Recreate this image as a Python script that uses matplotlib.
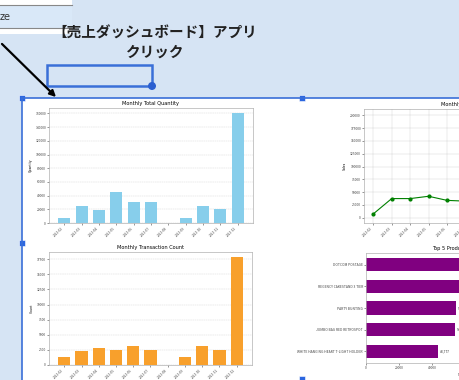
import matplotlib.pyplot as plt
from matplotlib.patches import Rectangle, Circle, FancyArrowPatch

plt.rcParams['font.family'] = ['Noto Sans CJK JP', 'DejaVu Sans']

months = ["2011-02", "2011-03", "2011-04", "2011-05", "2011-06", "2011-07",
          "2011-08", "2011-09", "2011-10", "2011-11", "2011-12"]
quantity = [7900, 24800, 18800, 46000, 31200, 30200, 0, 7400, 24800, 19800, 160000]
sales = [7500, 37500, 37500, 42000, 34000, 32500, 0, 8000, 40000, 30000, 202000]
tx_count = [1390, 2280, 2780, 2440, 3170, 2440, 0, 1280, 3220, 2500, 17800]
products = ["DOTCOM POSTAGE", "REGENCY CAKESTAND 3 TIER", "PARTY BUNTING",
            "JUMBO BAG RED RETROSPOT", "WHITE HANGING HEART T-LIGHT HOLDER"]
product_sales = [110000, 80000, 54500, 54000, 43777]

title_text = "【売上ダッシュボード】アプリ\nクリック"

W, H = 460, 380
BG = '#d6e4f4'
BLUE = '#3a6fd8'

fig = plt.figure(figsize=(W / 100, H / 100), dpi=100)
fig.patch.set_facecolor(BG)


def px_axes(x0, y0, x1, y1, z=1):
    # axes placed by pixel corners (top-left origin)
    return fig.add_axes([x0 / W, 1 - y1 / H, (x1 - x0) / W, (y1 - y0) / H], zorder=z)


# background layer
bg = px_axes(0, 0, W, H, z=0)
bg.set_xlim(0, W)
bg.set_ylim(H, 0)
bg.axis('off')
bg.add_patch(Rectangle((22, 98), 500, 300, facecolor='white', edgecolor='none'))
# cut-off table cell top left
bg.add_patch(Rectangle((0, 0), 72, 34, facecolor='white', edgecolor='none'))
bg.add_patch(Rectangle((0, 5), 72, 23, facecolor='#d9e8f8', edgecolor='none'))
bg.plot([0, 72], [4.5, 4.5], color='#888888', lw=0.8)
bg.plot([0, 72], [28, 28], color='#888888', lw=0.8)
bg.text(0, 17, "ze", fontsize=7, color='#333333', va='center', ha='left', family='DejaVu Sans')
bg.text(155, 42, title_text, fontsize=10.5, fontweight='bold', color='#222222',
        ha='center', va='center', linespacing=1.25)
bg.add_patch(Rectangle((47, 65), 105, 21, facecolor='none', edgecolor=BLUE, lw=1.8))
bg.add_patch(Circle((152, 86), 4, facecolor='#2b5fd0', edgecolor='none'))

tick_fs = 2.4
title_fs = 3.6


def style(ax, num_axis='y'):
    for s in ax.spines.values():
        s.set_color('#b0b0b0')
        s.set_linewidth(0.5)
    ax.tick_params(labelsize=tick_fs, length=1.2, width=0.4, pad=1, colors='#444444')
    ax.ticklabel_format(axis=num_axis, style='plain')


# Monthly Total Quantity
ax1 = px_axes(49, 108, 253, 223)
ax1.bar(months, quantity, color='skyblue', width=0.7)
ax1.set_title("Monthly Total Quantity", fontsize=title_fs, pad=2, family='DejaVu Sans')
ax1.set_ylabel("Quantity", fontsize=tick_fs, labelpad=2)
ax1.grid(axis='y', ls='--', lw=0.3, alpha=0.6)
ax1.set_axisbelow(True)
style(ax1)
plt.setp(ax1.get_xticklabels(), rotation=45, ha='right')

# Monthly Sales (line)
ax2 = px_axes(364, 109, 567, 223)
ax2.plot(months, sales, color='green', marker='o', markersize=2, lw=0.8)
ax2.set_title("Monthly Total Sales", fontsize=title_fs, pad=2, family='DejaVu Sans')
ax2.set_ylabel("Sales", fontsize=tick_fs, labelpad=2)
ax2.set_yticks(range(0, 200001, 25000))
ax2.grid(True, lw=0.3, alpha=0.6)
style(ax2)
plt.setp(ax2.get_xticklabels(), rotation=45, ha='right')

# Monthly Transaction Count
ax3 = px_axes(49, 252, 252, 365)
ax3.bar(months, tx_count, color='#f8a02c', width=0.7)
ax3.set_title("Monthly Transaction Count", fontsize=title_fs, pad=2, family='DejaVu Sans')
ax3.set_ylabel("Count", fontsize=tick_fs, labelpad=2)
ax3.grid(axis='y', ls='--', lw=0.3, alpha=0.6)
ax3.set_axisbelow(True)
style(ax3)
plt.setp(ax3.get_xticklabels(), rotation=45, ha='right')

# Top 5 Products
ax4 = px_axes(366, 253, 558, 363)
bars = ax4.barh(products, product_sales, color='purple', height=0.62)
ax4.invert_yaxis()
ax4.set_title("Top 5 Products by Sales", fontsize=title_fs, pad=2, family='DejaVu Sans')
ax4.set_xlabel("Sales", fontsize=tick_fs, labelpad=2)
for b, v in zip(bars, product_sales):
    ax4.text(b.get_width() + 1000, b.get_y() + b.get_height() / 2, f"{v:,}",
             fontsize=tick_fs, va='center', color='#333333')
ax4.set_xticks(range(0, 120001, 20000))
ax4.set_xlim(0, 116000)
style(ax4, num_axis='x')

# selection frame on top
top = px_axes(0, 0, W, H, z=5)
top.set_xlim(0, W)
top.set_ylim(H, 0)
top.axis('off')
top.patch.set_alpha(0)
top.plot([22, W], [97.5, 97.5], color=BLUE, lw=1.2)
top.plot([22, 22], [97.5, H], color=BLUE, lw=1.2)
for hx, hy in [(22, 98), (302, 98), (22, 243), (302, 379)]:
    top.add_patch(Rectangle((hx - 3, hy - 3), 6, 6, facecolor='#2b66e0', edgecolor='white', lw=0.4))
top.add_patch(FancyArrowPatch((0, 42), (58, 99), arrowstyle='-|>', mutation_scale=9,
                              color='black', lw=1.6))

fig.savefig("out.png", dpi=100, facecolor=fig.get_facecolor())
